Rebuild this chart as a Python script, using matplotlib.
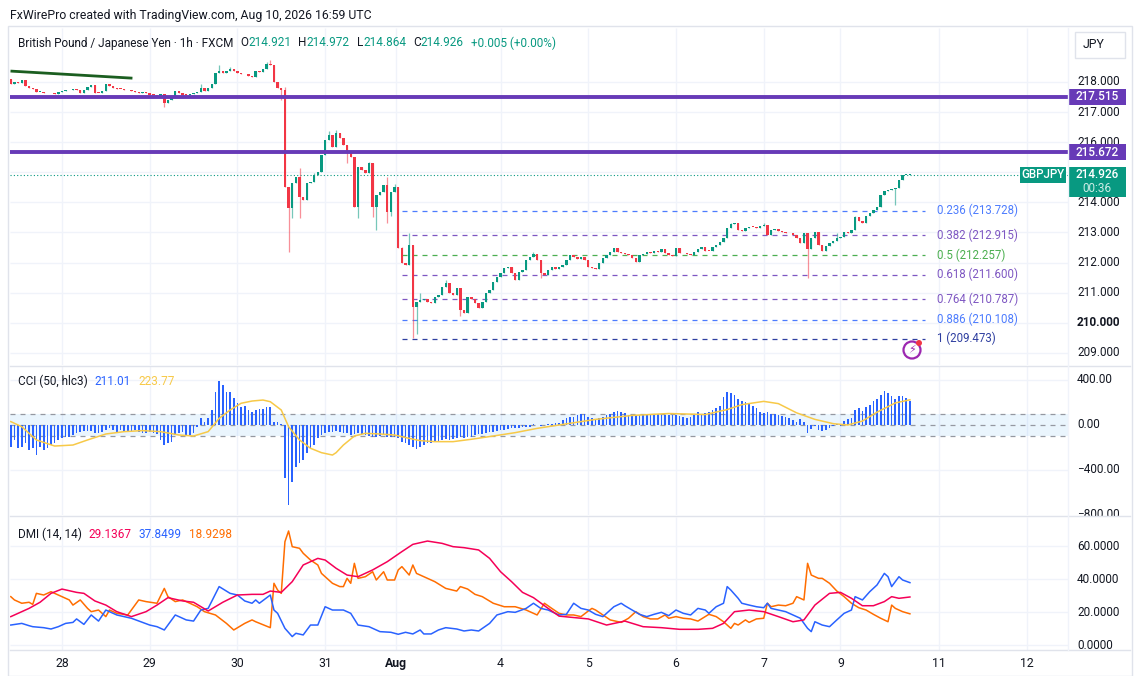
import matplotlib
matplotlib.use("Agg")
import matplotlib.pyplot as plt
from matplotlib.patches import Rectangle, Ellipse
import numpy as np

plt.rcParams['font.family'] = ['Roboto', 'DejaVu Sans']

# ---------------- data (1h bars, index 0 = Jul 27 10:00) ----------------
first_open = 218.10
closes = [
    217.95, 218.00, 217.97, 218.05, 217.87, 217.80, 217.77, 217.66, 217.68, 217.64,
    217.62, 217.64, 217.60, 217.66, 217.70, 217.72, 217.75, 217.78, 217.72, 217.62,
    217.72, 217.82, 217.90, 217.64, 217.63, 217.70, 217.92, 217.88, 217.80, 217.78,
    217.77, 217.72, 217.74, 217.70, 217.66, 217.64, 217.68, 217.62, 217.58, 217.56,
    217.55, 217.60, 217.30, 217.40, 217.48, 217.70, 217.62, 217.58, 217.56, 217.60,
    217.63, 217.68, 217.80, 217.70, 217.80, 217.95, 218.30,
    218.37, 218.29, 218.35, 218.42, 218.35, 218.30, 218.27, 218.25, 218.21, 218.17,
    218.37, 218.32, 218.43, 218.59, 218.56, 218.01, 217.81, 217.74,
    214.52, 213.80, 214.63, 214.86, 214.19, 214.08, 214.63, 214.69, 214.91, 215.02,
    215.57, 216.07, 216.24, 215.85, 216.29, 216.15, 215.90, 215.63, 215.52, 213.86,
    215.19, 215.08, 214.97, 215.30, 213.86, 214.25, 214.36, 214.58, 213.69, 214.36,
    214.52, 212.47,
    211.98, 211.93, 212.58, 210.54, 210.70, 210.76, 210.78, 210.70, 210.67, 210.87,
    210.92, 211.20, 211.31, 210.98, 210.92, 211.15, 210.43, 210.31, 210.87, 210.78,
    210.65, 210.48, 210.70, 210.98, 211.09, 211.37, 211.53, 211.64, 211.81, 211.86,
    211.64, 211.42, 211.70, 211.75, 212.09, 212.20, 212.29, 212.09, 211.64, 211.59,
    211.75, 211.86, 211.78, 211.86, 211.92, 212.09, 212.25, 212.20, 212.11, 212.20,
    212.09, 211.86, 211.81, 211.78, 211.98, 212.14, 212.25, 212.36, 212.47, 212.36,
    212.33, 212.30, 212.25, 212.14, 212.03, 212.25, 212.29, 212.36, 212.33, 212.40,
    212.36,
    212.44, 212.33, 212.25, 212.23, 212.47, 212.33, 212.31, 212.28, 212.25, 212.36,
    212.44, 212.51, 212.40, 212.38, 212.51, 212.59, 212.70, 212.81, 213.14, 213.27,
    213.30, 213.08, 213.05, 213.14, 213.19, 213.18, 213.14, 213.22, 213.25, 212.92,
    213.08, 213.12, 213.06, 213.03, 212.99, 212.97, 212.92, 212.81, 212.66, 212.97,
    212.44, 212.81, 213.03, 212.59, 212.40, 212.55, 212.64, 212.73, 212.81, 212.86,
    213.03, 212.97, 213.08, 213.50, 213.39, 213.31, 213.55, 213.66, 213.75, 213.86,
    214.25, 214.39, 214.41, 214.43, 214.47, 214.75, 214.91, 214.92, 214.926,
]
wick_high = {52: 217.93, 57: 218.56, 60: 218.50, 70: 218.68, 71: 218.73, 75: 217.85,
             79: 215.13, 83: 214.97, 87: 216.37, 89: 216.42, 98: 215.35, 103: 214.86,
             105: 214.62, 107: 212.51, 109: 212.97, 112: 210.98, 119: 211.42, 143: 212.36,
             197: 213.31, 206: 213.30, 226: 212.97, 231: 213.55}
wick_low = {42: 217.18, 74: 217.40, 76: 212.36, 77: 213.47, 79: 213.47, 92: 215.30,
            95: 213.47, 99: 213.53, 100: 213.08, 103: 213.30, 104: 213.55, 110: 209.50,
            111: 209.62, 123: 210.23, 145: 211.48, 218: 211.48, 242: 213.91}

date_ticks = [14, 38, 62, 86, 105.5, 134, 158, 182, 206, 227, 254, 278]
date_labels = ["28", "29", "30", "31", "Aug", "4", "5", "6", "7", "9", "11", "12"]
price_ticks = [209, 210, 211, 212, 213, 214, 216, 217, 218]
levels = [217.515, 215.672]
last_price = 214.926
trend_x = [0.3, 32.9]
trend_y = [218.36, 218.13]
fib_ratios = ["0.236", "0.382", "0.5", "0.618", "0.764", "0.886", "1"]
fib_prices = [213.728, 212.915, 212.257, 211.600, 210.787, 210.108, 209.473]
fib_span = [107, 250]

cci = [
    -199, -133, -207, -199, -163, -222, -207, -267, -193, -222, -207, -178, -163, -133, -119,
    -104, -110, -89, -74, -59, -53, -53, -50, -68, -74, -59, -44, -30, -44, -59, -44, -59, -59,
    -59, -44, -59, -74, -68, -59, -68, -80, -133, -178, -163, -148, -89, -74, -59, -89, -89,
    -74, -15, 59, 30, 59, 133, 296, 394, 356, 296, 296, 237, 198, 163, 169, 133, 119, 133, 139,
    139, 163, 163, 30, 30, 9, -474, -711, -504, -370, -341, -311, -252, -207, -178, -119, -89,
    -74, -59, -59, -50, -59, -68, -74, -89, -80, -74, -80, -89, -98, -104,
    -110, -98, -89, -104, -104, -110, -119, -148, -163, -178, -193, -216, -199, -178, -163,
    -157, -148, -148, -133, -127, -133, -127, -119, -110, -119, -110, -104, -89, -80, -80,
    -68, -59, -59, -50, -44, -44, -39, -30, -30, -30, -15, -15, -15, 9, 3, -9, 3, 5, 9, 15,
    21, 40, 60, 73, 73, 90, 102, 95, 73, 65, 50, 62, 73, 85, 102, 114, 123, 117, 105, 85,
    79, 85, 93, 102, 102, 102, 102, 102, 85, 85, 93, 85, 85, 79, 73, 65, 73, 93, 114, 102,
    108, 114, 137, 150, 172, 248, 289, 283, 269, 231,
    210, 201, 190, 166, 152, 114, 108, 114, 102, 102, 93, 79, 73, 65, 44, 26, 50, 30, -73,
    -40, -10, -44, -53, -44, -25, -9, 5, -9, 35, 55, 64, 137, 152, 123, 160, 181, 210, 231,
    269, 298, 283, 260, 231, 255, 255, 240, 211,
]
cci_ma_idx = [0, 3, 7, 12, 17, 21, 26, 31, 36, 41, 46, 50, 54, 57, 60, 63, 66, 69, 71, 74, 76,
              79, 82, 85, 88, 89, 91, 94, 97, 101, 105, 109, 112, 116, 121, 126, 132, 138, 144,
              150, 160, 170, 180, 190, 196, 200, 206, 210, 215, 220, 225, 229, 233, 237, 242, 246]
cci_ma = [30, -15, -133, -187, -178, -133, -80, -59, -50, -59, -89, -98, -59, 59, 133, 193, 213,
          222, 207, 133, -15, -133, -207, -246, -267, -246, -178, -98, -74, -80, -89, -119, -139,
          -148, -148, -127, -98, -68, -30, 0, 50, 85, 102, 93, 137, 181, 210, 190, 108, 50, 12,
          0, 35, 114, 196, 224]

adx_idx = [0, 5, 8, 11, 14, 18, 20, 23, 26, 29, 33, 37, 40, 43, 47, 50, 54, 58, 62, 66, 69, 71,
           74, 77, 80, 84, 86, 89, 92, 95, 99, 103, 107, 110, 114, 118, 121, 124, 128, 131, 134,
           137, 140, 143, 147, 150, 158, 163, 168, 173, 178, 183, 188, 192, 195, 198, 202, 206,
           210, 214, 217, 220, 224, 227, 230, 233, 236, 239, 241, 243, 246]
adx = [17.2, 22.2, 25.9, 31.3, 33.9, 31.9, 31.3, 26.7, 24.2, 20.2, 17.2, 20.2, 24.2, 28.7, 26.7,
       25.9, 20.6, 25.9, 30.3, 30.7, 30.7, 32.7, 31.9, 38.4, 48.5, 52.5, 51.5, 46.5, 42.4, 41.4,
       45.5, 50.5, 56.6, 61.0, 63.0, 61.6, 59.6, 59.0, 57.6, 52.5, 44.4, 38.4, 31.9, 28.7, 22.2,
       17.5, 15.8, 12.1, 14.5, 11.1, 10.5, 9.5, 9.5, 10.1, 13.1, 20.2, 21.2, 20.2, 17.2, 14.1,
       15.2, 24.2, 31.3, 31.9, 28.3, 23.8, 23.8, 26.3, 29.3, 28.3, 29.1]
pdi_idx = [0, 3, 5, 6, 9, 11, 13, 15, 17, 18, 20, 22, 24, 26, 29, 33, 38, 40, 42, 45, 48, 50, 52,
           54, 57, 60, 62, 64, 66, 67, 68, 71, 72, 73, 75, 77, 78, 80, 82, 84, 86, 88, 91, 93, 95,
           98, 101, 104, 106, 108, 110, 112, 113, 115, 117, 119, 122, 124, 126, 128, 131, 133,
           136, 138, 141, 143, 145, 147, 150, 152, 154, 156, 158, 160, 162, 163, 165, 167, 168,
           170, 172, 174, 176, 178, 180, 182, 184, 186, 188, 190, 191, 193, 195, 196, 197, 199,
           200, 202, 204, 206, 207, 208, 210, 212, 214, 216, 218, 219, 220, 222, 224, 226, 228,
           230, 231, 233, 235, 237, 239, 240, 241, 243, 244, 246]
pdi = [12.1, 13.1, 11.7, 11.1, 10.5, 9.7, 11.1, 13.1, 13.7, 15.8, 12.5, 18.2, 14.5, 21.2, 18.2,
       16.2, 12.1, 11.1, 9.1, 18.2, 15.2, 14.5, 21.2, 22.2, 35.4, 31.3, 30.3, 26.7, 25.3, 27.3,
       25.3, 30.3, 21.2, 19.2, 10.1, 5.1, 7.1, 6.1, 12.1, 12.1, 23.2, 21.2, 21.2, 19.2, 12.1,
       11.1, 8.1, 7.7, 6.5, 7.7, 6.7, 9.1, 6.7, 6.7, 9.1, 10.5, 9.7, 8.5, 9.1, 8.5, 13.1, 18.2,
       20.2, 19.8, 22.2, 25.3, 22.2, 21.2, 18.2, 18.6, 25.3, 22.2, 21.2, 18.6, 17.2, 19.2, 23.2,
       25.3, 23.8, 21.2, 18.6, 17.2, 18.6, 19.8, 17.8, 21.2, 19.2, 18.2, 22.2, 21.2, 19.2, 23.2,
       25.3, 35.4, 33.3, 28.3, 25.3, 24.2, 23.2, 22.6, 25.3, 22.2, 21.2, 20.2, 18.2, 16.2, 10.1,
       8.1, 14.1, 12.1, 11.1, 15.2, 19.2, 21.2, 29.3, 27.3, 32.3, 36.4, 43.4, 41.4, 35.4, 41.4,
       39.4, 37.8]
mdi_idx = [0, 1, 3, 5, 6, 7, 9, 11, 13, 16, 17, 19, 21, 22, 24, 26, 27, 29, 32, 35, 37, 40, 42,
           43, 45, 47, 49, 51, 53, 56, 59, 61, 64, 66, 67, 71, 72, 73, 74, 75, 76, 77, 79, 80,
           82, 84, 85, 88, 90, 91, 92, 93, 94, 95, 97, 99, 100, 102, 103, 105, 106, 107, 109,
           110, 111, 113, 116, 119, 122, 123, 125, 127, 129, 132, 135, 138, 141, 144, 146, 148,
           150, 152, 154, 156, 158, 159, 160, 162, 164, 167, 169, 171, 173, 175, 177, 179, 180,
           182, 184, 186, 188, 190, 191, 193, 195, 197, 198, 199, 201, 202, 204, 206, 207, 208,
           210, 212, 214, 215, 217, 218, 219, 221, 222, 224, 226, 228, 230, 232, 234, 236, 238,
           240, 241, 242, 244, 246]
mdi = [29.3, 27.3, 25.3, 25.9, 24.6, 31.3, 30.3, 32.3, 30.3, 27.3, 24.2, 27.3, 22.2, 20.2, 21.2,
       17.2, 21.2, 19.2, 18.2, 27.3, 26.3, 25.3, 34.3, 29.3, 26.3, 27.3, 25.3, 23.2, 20.2, 18.2,
       13.1, 9.1, 13.1, 15.2, 14.1, 10.5, 37.4, 33.3, 31.3, 62.6, 69.1, 59.6, 58.6, 55.6, 51.5,
       48.5, 43.4, 37.4, 35.4, 35.4, 40.4, 37.4, 49.5, 40.4, 41.4, 44.4, 39.4, 44.4, 39.4, 39.4,
       45.5, 47.5, 42.4, 48.5, 43.4, 41.4, 38.4, 34.3, 32.7, 35.4, 33.9, 30.7, 29.3, 25.3, 23.2,
       23.2, 21.2, 18.2, 25.3, 22.2, 19.2, 18.2, 18.2, 17.2, 20.6, 22.2, 21.2, 18.2, 15.2, 13.7,
       16.2, 20.2, 17.2, 15.8, 15.8, 18.2, 16.2, 17.2, 16.2, 15.8, 14.5, 17.2, 18.6, 17.2, 14.1,
       10.1, 13.1, 12.1, 15.2, 13.7, 15.8, 16.2, 25.3, 23.2, 24.2, 23.8, 25.3, 29.3, 27.3, 49.5,
       42.4, 40.4, 40.4, 37.4, 32.7, 29.3, 25.3, 22.6, 21.2, 18.6, 16.2, 14.1, 24.2, 22.2, 20.2,
       18.9]

# ---------------- styling ----------------
UP, DN = "#089981", "#F23645"
PURPLE = "#673AB7"
BLUE = "#2962FF"
GRID = "#F0F3FA"
SEP = "#E0E3EB"
TXT = "#131722"
fib_colors = ["#4D7CFE", "#7E57C2", "#4CAF50", "#7E57C2", "#7E57C2", "#4D7CFE", "#2F3FA0"]

W, H = 1134, 676
BAR_PX, X0_PX = 3.655, 10.8          # bar spacing and x of bar 0 in pixels


def px_i(x):
    return (x - X0_PX) / BAR_PX


def frac(x0, y0, x1, y1):
    return [x0 / W, 1 - y1 / H, (x1 - x0) / W, (y1 - y0) / H]


fig = plt.figure(figsize=(W / 100, H / 100), dpi=100)
fig.patch.set_facecolor("white")

ax_p = fig.add_axes(frac(10, 28, 1130, 365))
ax_c = fig.add_axes(frac(10, 366, 1130, 515))
ax_d = fig.add_axes(frac(10, 517, 1130, 650))
XL, XR, XS = px_i(10), px_i(1130), px_i(1068)
LAB_X = px_i(1077)

ax_p.set_ylim(208.598, 219.794)
ax_c.set_ylim(-800, 524.4)
ax_d.set_ylim(-3.03, 77.58)
for ax in (ax_p, ax_c, ax_d):
    ax.set_xlim(XL, XR)
    for s in ax.spines.values():
        s.set_visible(False)
    ax.set_yticks([])
    ax.set_xticks([])
    y0, y1 = ax.get_ylim()
    ax.vlines(date_ticks, y0, y1, colors=GRID, lw=1, zorder=0)

# ---------------- price pane ----------------
n = len(closes)
idx = np.arange(n)
o = np.array([first_open] + closes[:-1])
c = np.array(closes)
col = np.where(c >= o, UP, DN)
body_lo, body_hi = np.minimum(o, c), np.maximum(o, c)
hi, lo = body_hi.copy(), body_lo.copy()
for k, v in wick_high.items():
    hi[k] = v
for k, v in wick_low.items():
    lo[k] = v

for p in price_ticks + [215]:
    ax_p.hlines(p, XL, XS, colors=GRID, lw=1, zorder=0)

ax_p.vlines(idx, lo, hi, colors=col, lw=0.9, alpha=0.55, zorder=2)
ax_p.bar(idx, np.maximum(body_hi - body_lo, 0.025), bottom=body_lo, width=0.66,
         color=col, lw=0, zorder=3)

for lv in levels:
    ax_p.hlines(lv, XL, XS, colors=PURPLE, lw=2.8, zorder=4)
ax_p.plot(trend_x, trend_y, color="#1B5E20", lw=2.0, zorder=4)
ax_p.hlines(last_price, XL, XS, colors=UP, lw=0.8, linestyles=(0, (1, 2)), zorder=1)

for r, fp, fc in zip(fib_ratios, fib_prices, fib_colors):
    ax_p.hlines(fp, fib_span[0], fib_span[1], colors=fc, lw=0.9, linestyles=(0, (4, 4)), zorder=1)
    ax_p.text(px_i(937), fp, f"{r} ({fp:.3f})", color=fc, fontsize=8.3, va="center", ha="left")

for p in price_ticks:
    ax_p.text(LAB_X, p, f"{p:.3f}", fontsize=8.5, color=TXT, va="center", ha="left",
              fontweight="bold" if p == 210 else "normal")

# price tags
ppx = 30.1  # pixels per yen
for lv in levels:
    ax_p.add_patch(Rectangle((XS, lv - 8 / ppx), px_i(1126) - XS, 16 / ppx, color=PURPLE,
                             lw=0, zorder=6))
    ax_p.text(px_i(1097), lv, f"{lv:.3f}", color="white", fontsize=8.5, va="center",
              ha="center", zorder=7, fontweight="medium")
ax_p.add_patch(Rectangle((XS, last_price - 22 / ppx), px_i(1126) - XS, 30 / ppx, color=UP,
                         lw=0, zorder=6))
ax_p.text(px_i(1097), last_price, f"{last_price:.3f}", color="white", fontsize=8.5,
          va="center", ha="center", zorder=7, fontweight="medium")
ax_p.text(px_i(1097), last_price - 14 / ppx, "00:36", color="#CDEDE6", fontsize=8.5,
          va="center", ha="center", zorder=7)
ax_p.add_patch(Rectangle((px_i(1020), last_price - 8 / ppx), px_i(1066) - px_i(1020),
                         16 / ppx, color=UP, lw=0, zorder=6))
ax_p.text(px_i(1043), last_price, "GBPJPY", color="white", fontsize=8.3, va="center",
          ha="center", zorder=7, fontweight="medium")

# ---------------- CCI pane ----------------
ax_c.hlines([400, -400], XL, XS, colors=GRID, lw=1, zorder=0)
ax_c.fill_between([XL, XS], -100, 100, color="#2196F3", alpha=0.09, lw=0, zorder=0)
ax_c.hlines([100, 0, -100], XL, XS, colors="#9598A1", lw=0.9, linestyles=(0, (4, 4)), zorder=1)
ax_c.bar(idx, cci, width=0.45, color=BLUE, lw=0, zorder=2)
ax_c.plot(cci_ma_idx, cci_ma, color="#F7C948", lw=1.1, zorder=3)
for v, s in [(400, "400.00"), (0, "0.00"), (-400, "\u2212400.00"), (-800, "\u2212800.00")]:
    ax_c.text(LAB_X, v, s, fontsize=8.5, color=TXT, va="center", ha="left", clip_on=False)

# ---------------- DMI pane ----------------
ax_d.hlines([60, 40, 20, 0], XL, XS, colors=GRID, lw=1, zorder=0)
ax_d.plot(mdi_idx, mdi, color="#FF6D00", lw=1.1, zorder=2)
ax_d.plot(pdi_idx, pdi, color="#2962FF", lw=1.1, zorder=2)
ax_d.plot(adx_idx, adx, color="#F50057", lw=1.1, zorder=3)
for v in [60, 40, 20, 0]:
    ax_d.text(LAB_X, v, f"{v:.4f}", fontsize=8.5, color=TXT, va="center", ha="left",
              clip_on=False)

ax_d.set_xticks(date_ticks)
ax_d.set_xticklabels(date_labels)
ax_d.tick_params(axis="x", length=0, pad=5, labelsize=8.8, labelcolor=TXT)
for t in ax_d.get_xticklabels():
    if t.get_text() == "Aug":
        t.set_fontweight("bold")

# ---------------- frame / separators ----------------
for ypx in (365.5, 516, 650):
    fig.add_artist(plt.Line2D([10 / W, 1130 / W], [1 - ypx / H] * 2, color=SEP, lw=1))
fig.add_artist(plt.Line2D([1068 / W] * 2, [1 - 650 / H, 1 - 28 / H], color=GRID, lw=1))
fig.add_artist(Rectangle((8 / W, 0), 1124 / W, 1 - 26 / H, transform=fig.transFigure,
                         fill=False, ec=SEP, lw=1))
fig.add_artist(Rectangle((1075 / W, 1 - 58 / H), 50 / W, 26 / H, transform=fig.transFigure,
                         fill=False, ec=SEP, lw=1))
fig.text(1083 / W, 1 - 45 / H, "JPY", fontsize=8.8, color=TXT, va="center", ha="left")

# lightning icon
fig.add_artist(Ellipse((912 / W, 1 - 350 / H), 17 / W, 17 / H, transform=fig.transFigure,
                       fill=False, ec="#9C27B0", lw=1.6))
fig.text(912 / W, 1 - 350 / H, "\u26a1", fontsize=8, color="#9C27B0", va="center",
         ha="center", family=["DejaVu Sans"])
fig.add_artist(Ellipse((919 / W, 1 - 343 / H), 6 / W, 6 / H, transform=fig.transFigure,
                       color="#F23645", lw=0))

# ---------------- header / legends ----------------
renderer = fig.canvas.get_renderer()


def segments(x, y, parts, size=8.5):
    for s, colr, gap in parts:
        t = fig.text(x / W, 1 - y / H, s, color=colr, fontsize=size, va="center", ha="left")
        x += t.get_window_extent(renderer).width + gap


fig.text(10 / W, 1 - 15 / H, "FxWirePro created with TradingView.com, Aug 10, 2026 16:59 UTC",
         fontsize=8.8, color=TXT, va="center", ha="left")
segments(18, 43, [("British Pound / Japanese Yen \u00b7 1h \u00b7 FXCM", TXT, 7),
                  ("O", TXT, 0), ("214.921", UP, 7), ("H", TXT, 0), ("214.972", UP, 7),
                  ("L", TXT, 0), ("214.864", UP, 7), ("C", TXT, 0), ("214.926", UP, 7),
                  ("+0.005 (+0.00%)", UP, 0)])
segments(18, 381, [("CCI (50, hlc3)", TXT, 7), ("211.01", BLUE, 7), ("223.77", "#F7C948", 0)])
segments(18, 534, [("DMI (14, 14)", TXT, 7), ("29.1367", "#F50057", 7),
                   ("37.8499", "#2962FF", 7), ("18.9298", "#FF6D00", 0)])

fig.savefig("out.png", dpi=100)
